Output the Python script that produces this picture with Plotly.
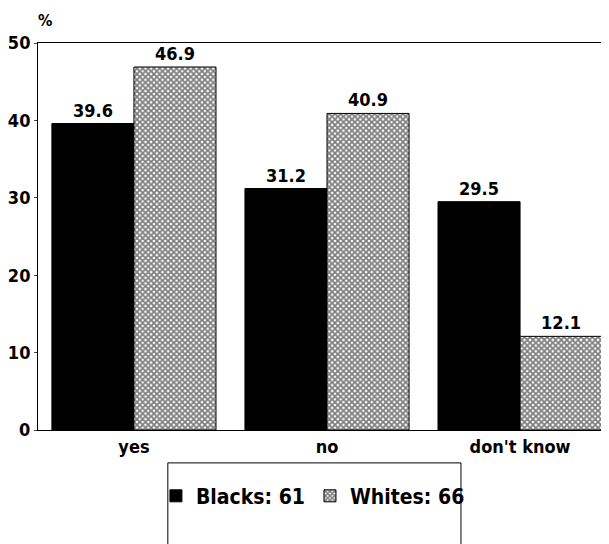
import plotly.graph_objects as go

categories = ["yes", "no", "don't know"]
blacks = [39.6, 31.2, 29.5]
whites = [46.9, 40.9, 12.1]
series_names = ["Blacks: 61", "Whites: 66"]
y_ticks = [0, 10, 20, 30, 40, 50]

FONT = "DejaVu Sans Condensed, Liberation Sans Narrow, Arial Narrow, Liberation Sans, sans-serif"
xpos = list(range(len(categories)))

fig = go.Figure()
fig.add_trace(go.Bar(
    x=xpos, y=blacks, name=f"<b>{series_names[0]}</b>",
    marker=dict(color="black", line=dict(color="black", width=1)),
    text=[f"<b>{v:.1f}</b>" for v in blacks], textposition="outside",
    textfont=dict(size=18, color="black", family=FONT),
    cliponaxis=False,
))
fig.add_trace(go.Bar(
    x=xpos, y=whites, name=f"<b>{series_names[1]}</b>",
    marker=dict(color="white", line=dict(color="black", width=1),
                pattern=dict(shape="x", fgcolor="black", bgcolor="white",
                             size=4, solidity=0.7)),
    text=[f"<b>{v:.1f}</b>" for v in whites], textposition="outside",
    textfont=dict(size=18, color="black", family=FONT),
    cliponaxis=False,
))

fig.update_layout(
    width=609, height=544,
    margin=dict(l=30, r=12, t=35, b=122, autoexpand=False),
    paper_bgcolor="white", plot_bgcolor="white",
    barmode="group", bargap=0.15, bargroupgap=0,
    font=dict(family=FONT, size=18, color="black"),
    showlegend=True,
    legend=dict(orientation="h", x=0.208, xanchor="left", y=-0.171, yanchor="middle",
                font=dict(size=21, family=FONT), bgcolor="rgba(0,0,0,0)",
                itemwidth=30, tracegroupgap=0),
    xaxis=dict(
        tickmode="array", tickvals=xpos, ticktext=[f"<b>{c}</b>" for c in categories],
        range=[-0.497, 2.44], showline=True, linecolor="black", linewidth=1,
        mirror=True, showgrid=False, zeroline=False, ticks="", automargin=False,
        tickfont=dict(size=18, family=FONT),
    ),
    yaxis=dict(
        range=[0, 50], tickmode="array", tickvals=y_ticks,
        ticktext=[f"<b>{t}</b>" for t in y_ticks],
        showline=True, linecolor="black", linewidth=1, automargin=False,
        showgrid=False, zeroline=False, ticks="outside", ticklen=3,
        tickfont=dict(size=18, family=FONT),
    ),
    shapes=[dict(type="rect", xref="paper", yref="paper",
                 x0=0.229, x1=0.746, y0=-0.33, y1=-0.085,
                 line=dict(color="black", width=1), fillcolor="rgba(0,0,0,0)")],
    annotations=[dict(text="<b>%</b>", xref="paper", yref="paper", x=-0.002, y=1.085,
                      xanchor="left", yanchor="top", showarrow=False, borderpad=0,
                      font=dict(size=16, family=FONT))],
)

fig.write_html("out.html")
